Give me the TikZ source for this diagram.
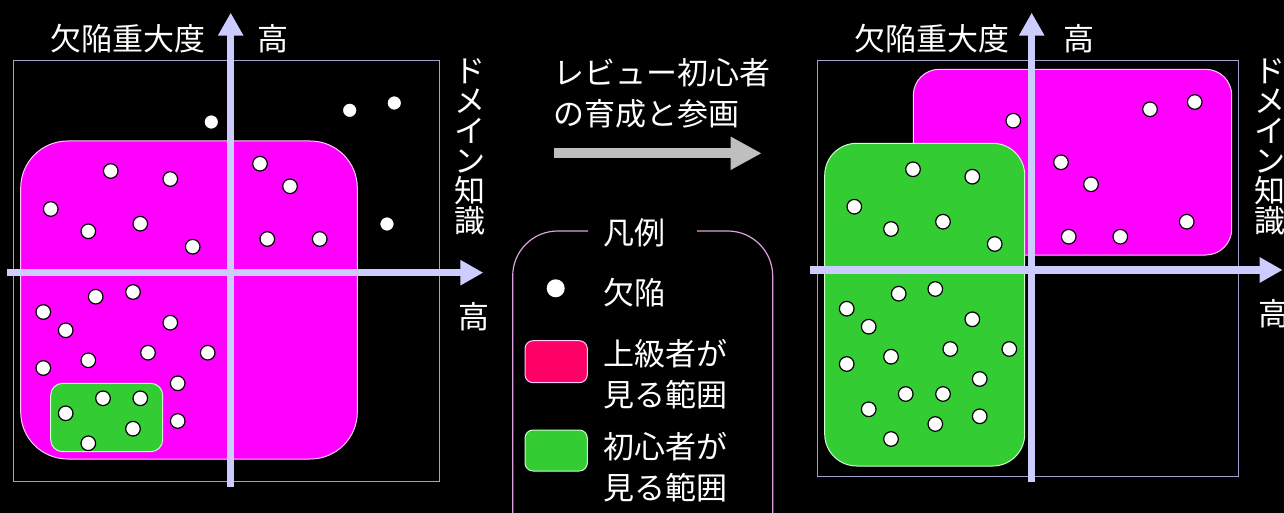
\documentclass[tikz,border=0pt]{standalone}
\usepackage{fontspec}
\usepackage{tikz}
\usetikzlibrary{arrows.meta}
\newfontfamily\jp{Noto Sans CJK JP}
\definecolor{axiscol}{HTML}{CCCCFF}
\definecolor{framecol}{HTML}{A0A0D0}
\definecolor{seniorcol}{HTML}{FF00FF}
\definecolor{seniorline}{HTML}{FFCCFF}
\definecolor{novicecol}{HTML}{33CC33}
\definecolor{noviceline}{HTML}{CCFFCC}
\definecolor{legendcol}{HTML}{FF0066}
\definecolor{legendline}{HTML}{E0A0E0}
\definecolor{shiftcol}{HTML}{BFBFBF}
\lineskiplimit=-20pt

\begin{document}
\begin{tikzpicture}[x=1pt,y=-1pt,
  axis/.style={draw=axiscol,line width=7.5pt,-{Triangle[width=24pt,length=23pt]}},
  frame/.style={draw=framecol,line width=1pt},
  senior/.style={fill=seniorcol,draw=seniorline,line width=1pt},
  novice/.style={fill=novicecol,draw=noviceline,line width=1pt},
  dot/.style={fill=white,draw=black,line width=1.2pt},
  lbl/.style={text=white,inner sep=0pt,font=\jp\fontsize{31}{41}\selectfont},
  vlbl/.style={lbl,align=center,font=\jp\fontsize{31}{30}\selectfont}]
\useasboundingbox (0,0) rectangle (1284,513);
\fill[black] (0,0) rectangle (1284,513);
  \draw[frame] (13.3,61) rectangle (439.3,481.7);
  \draw[senior,rounded corners=47pt] (20.7,141) rectangle (357.3,459);
  \draw[novice,rounded corners=12pt] (50.7,383.3) rectangle (162.7,451.7);
  \draw[axis] (230.7,486.7) -- (230.7,12.7);
  \draw[axis] (6.7,272.7) -- (483.3,272.7);
  \filldraw[dot] (211.3,122) circle (7.3pt) (349.7,110.3) circle (7.3pt)
    (394.3,103) circle (7.3pt) (387,224) circle (7.3pt)
    (110.7,171) circle (7.3pt) (170.3,179) circle (7.3pt)
    (260,163.7) circle (7.3pt) (290,186.3) circle (7.3pt)
    (50.7,209) circle (7.3pt) (88.3,231.3) circle (7.3pt)
    (140.3,223.7) circle (7.3pt) (192.7,246.7) circle (7.3pt)
    (267.3,239) circle (7.3pt) (319.7,239) circle (7.3pt)
    (95.7,296.7) circle (7.3pt) (133,292) circle (7.3pt)
    (43.3,312) circle (7.3pt) (65.7,330.3) circle (7.3pt)
    (170.3,322.7) circle (7.3pt) (148,352.7) circle (7.3pt)
    (207.7,352.7) circle (7.3pt) (88.3,360.3) circle (7.3pt)
    (43.3,368) circle (7.3pt) (177.7,383.3) circle (7.3pt)
    (177.7,421) circle (7.3pt) (103,398.3) circle (7.3pt)
    (140.3,398.3) circle (7.3pt) (65.7,413.3) circle (7.3pt)
    (133,428.7) circle (7.3pt) (88.3,443.3) circle (7.3pt);
  \node[lbl] (sevL) at (128,39) {欠陥重大度};
  \node[lbl] (sevHiL) at (272.7,39) {高};
  \node[vlbl] (domL) at (470,147) {ド\\メ\\イ\\ン\\知\\識};
  \node[lbl] (domHiL) at (474,317) {高};

  \node[lbl,align=left,anchor=west] (shiftText) at (553,93) {レビュー初心者\\の育成と参画};
  \coordinate (shiftS) at (554.3,153.3);
  \coordinate (shiftE) at (761.7,153.3);
  \draw[draw=shiftcol,line width=10pt,-{Triangle[width=31pt,length=31pt]}] (shiftS) -- (shiftE);

  \draw[legendline,line width=1.2pt,rounded corners=45pt] (588,231) -- (512.7,231) -- (512.7,560);
  \draw[legendline,line width=1.2pt,rounded corners=45pt] (697,231) -- (772.7,231) -- (772.7,560);
  \node[lbl] (legTitle) at (634,233) {凡例};
  \fill[white] (555.7,288.3) circle (9pt);
  \node[lbl,anchor=west] (legDefect) at (603,293) {欠陥};
  \draw[fill=legendcol,draw=seniorline,line width=1pt,rounded corners=8pt] (525,340.7) rectangle (587.3,382.7);
  \node[lbl,align=left,anchor=west] (legSenior) at (603,374) {上級者が\\見る範囲};
  \draw[novice,rounded corners=8pt] (525,430) rectangle (587.3,471);
  \node[lbl,align=left,anchor=west] (legNovice) at (603,467.5) {初心者が\\見る範囲};

  \draw[frame] (817.7,60.3) rectangle (1238.7,476);
  \draw[senior,rounded corners=26pt] (913.3,69.3) rectangle (1231.7,255);
  \draw[novice,rounded corners=32pt] (824.7,143.3) rectangle (1024.7,466);
  \draw[axis] (1031.7,481.7) -- (1031.7,12.7);
  \draw[axis] (810,270) -- (1282.7,270);
  \filldraw[dot] (1013.3,120.7) circle (7.3pt) (1150,109.3) circle (7.3pt)
    (1194.7,102) circle (7.3pt) (1061,162.3) circle (7.3pt)
    (1091,184.3) circle (7.3pt) (1186.7,221.7) circle (7.3pt)
    (1068.7,236.7) circle (7.3pt) (1120.3,236.7) circle (7.3pt)
    (913,169.3) circle (7.3pt) (972.3,176.7) circle (7.3pt)
    (854.3,206.7) circle (7.3pt) (891,229) circle (7.3pt)
    (943,221.7) circle (7.3pt) (994.7,244) circle (7.3pt)
    (898.7,293.7) circle (7.3pt) (935.3,289) circle (7.3pt)
    (846.7,308.7) circle (7.3pt) (868.7,326.7) circle (7.3pt)
    (972.3,319.3) circle (7.3pt) (950.3,349) circle (7.3pt)
    (1009.3,349) circle (7.3pt) (891,356.7) circle (7.3pt)
    (846.7,364) circle (7.3pt) (979.7,379) circle (7.3pt)
    (905.7,394) circle (7.3pt) (943,394) circle (7.3pt)
    (868.7,409.3) circle (7.3pt) (979.7,416.3) circle (7.3pt)
    (935.3,424) circle (7.3pt) (891,439) circle (7.3pt);
  \node[lbl] (sevR) at (932,39) {欠陥重大度};
  \node[lbl] (sevHiR) at (1079.3,39) {高};
  \node[vlbl] (domR) at (1270,147) {ド\\メ\\イ\\ン\\知\\識};
  \node[lbl] (domHiR) at (1274,314) {高};
\end{tikzpicture}
\end{document}
